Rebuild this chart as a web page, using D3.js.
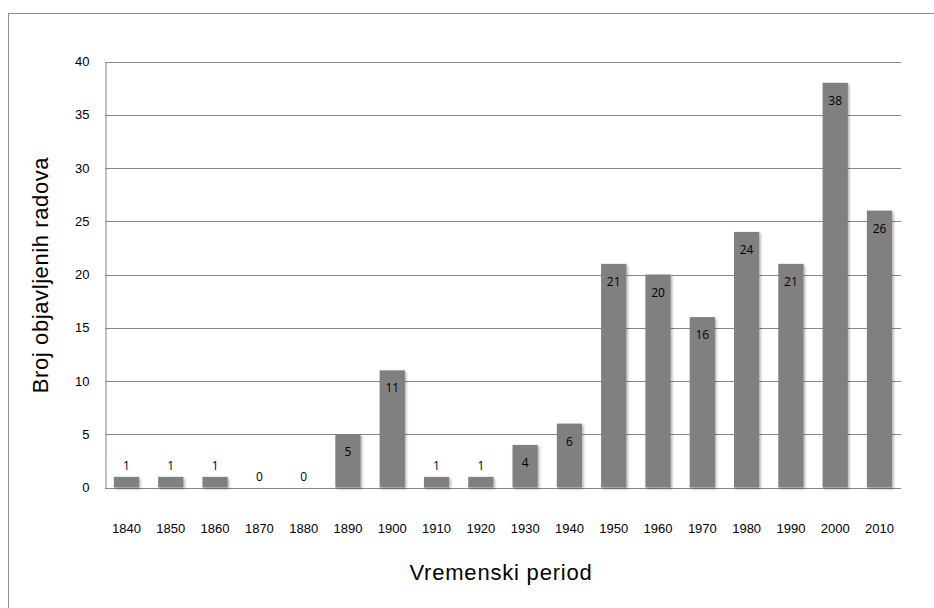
<!DOCTYPE html>
<html>
<head>
<meta charset="utf-8">
<script src="https://cdn.jsdelivr.net/npm/d3@7"></script>
<style>
  body { margin: 0; background: #fff; }
  text { font-family: "Liberation Sans", Arial, sans-serif; }
</style>
</head>
<body>
<script>
var width = 934,
    height = 608;

var periods = ["1840", "1850", "1860", "1870", "1880", "1890", "1900", "1910", "1920",
               "1930", "1940", "1950", "1960", "1970", "1980", "1990", "2000", "2010"];
var counts = [1, 1, 1, 0, 0, 5, 11, 1, 1, 4, 6, 21, 20, 16, 24, 21, 38, 26];
var yTicks = [0, 5, 10, 15, 20, 25, 30, 35, 40];

var data = periods.map(function(p, i) { return {period: p, value: counts[i]}; });

var margin = {left: 105, right: 33, top: 61.5, bottom: 120.5};

var svg = d3.select("body").append("svg")
    .attr("width", width)
    .attr("height", height);

var defs = svg.append("defs");
var shadow = defs.append("filter").attr("id", "shadow")
    .attr("x", "-20%").attr("y", "-20%").attr("width", "150%").attr("height", "150%");
shadow.append("feDropShadow")
    .attr("dx", 1.5).attr("dy", 1.5).attr("stdDeviation", 1.2)
    .attr("flood-color", "#000").attr("flood-opacity", 0.3);

// chart frame (cut off at right and bottom)
svg.append("rect")
    .attr("x", 8.5).attr("y", 13.5)
    .attr("width", 1000).attr("height", 1000)
    .attr("fill", "none")
    .attr("stroke", "#8c8c8c");

var x = d3.scaleBand()
    .domain(periods)
    .range([margin.left, width - margin.right])
    .paddingInner(0.43)
    .paddingOuter(0.2);

var y = d3.scaleLinear()
    .domain([0, 40])
    .range([height - margin.bottom, margin.top]);

// gridlines
svg.append("g").selectAll("line")
    .data(yTicks)
    .enter().append("line")
      .attr("x1", margin.left)
      .attr("x2", width - margin.right)
      .attr("y1", function(d) { return Math.round(y(d)) + 0.5; })
      .attr("y2", function(d) { return Math.round(y(d)) + 0.5; })
      .attr("stroke", "#878787")
      .attr("stroke-width", 1);

// y axis
var yAxis = svg.append("g")
    .attr("transform", "translate(" + (margin.left + 0.5) + ",0)")
    .call(d3.axisLeft(y).tickValues(yTicks).tickSize(0).tickPadding(16));
yAxis.select(".domain").attr("stroke", "#878787");
yAxis.selectAll("text").attr("font-size", 13).attr("fill", "#000")
    .attr("font-family", "Liberation Sans, Arial, sans-serif");

// x axis labels
var xAxis = svg.append("g")
    .attr("transform", "translate(0," + (height - margin.bottom) + ")")
    .call(d3.axisBottom(x).tickSize(0).tickPadding(36));
xAxis.select(".domain").remove();
xAxis.selectAll("text").attr("font-size", 13).attr("fill", "#000")
    .attr("font-family", "Liberation Sans, Arial, sans-serif");

// bars
svg.append("g").selectAll("rect")
    .data(data)
    .enter().append("rect")
      .attr("x", function(d) { return x(d.period); })
      .attr("y", function(d) { return y(d.value); })
      .attr("width", x.bandwidth())
      .attr("height", function(d) { return y(0) - y(d.value); })
      .attr("fill", "#808080")
      .attr("filter", "url(#shadow)");

// value labels
svg.append("g").selectAll("text")
    .data(data)
    .enter().append("text")
      .attr("x", function(d) { return x(d.period) + x.bandwidth() / 2; })
      .attr("y", function(d) { return d.value <= 1 ? y(d.value) - 7 : y(d.value) + 22; })
      .attr("text-anchor", "middle")
      .attr("font-size", 12)
      .style("font-family", "'Open Sans', sans-serif")
      .attr("fill", "#000")
      .text(function(d) { return d.value; });

// axis titles
svg.append("text")
    .attr("x", 501)
    .attr("y", 580)
    .attr("text-anchor", "middle")
    .attr("font-size", 22)
    .attr("letter-spacing", 0.8)
    .text("Vremenski period");

svg.append("text")
    .attr("transform", "translate(48,275) rotate(-90)")
    .attr("text-anchor", "middle")
    .attr("font-size", 22)
    .attr("letter-spacing", 0.6)
    .text("Broj objavljenih radova");
</script>
</body>
</html>
